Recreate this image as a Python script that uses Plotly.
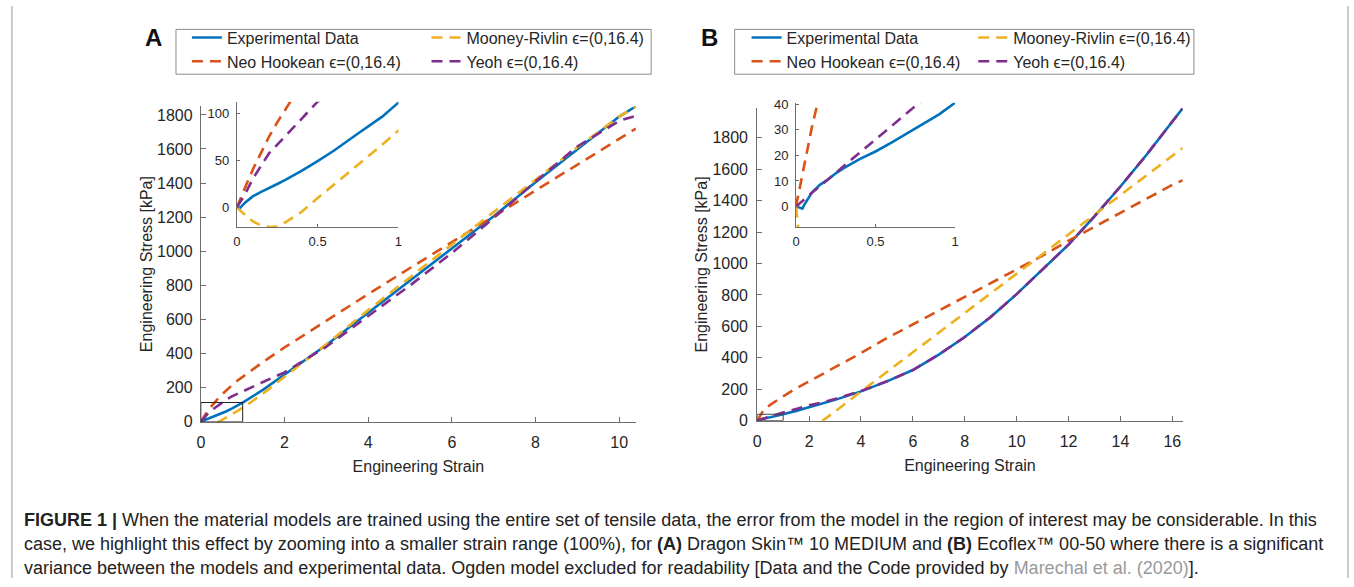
import plotly.graph_objects as go

W, H = 1354, 587

# ---------------- Panel A data (Dragon Skin 10 MEDIUM) ----------------
strain_a = [0, 0.02, 0.05, 0.1, 0.15, 0.2, 0.25, 0.3, 0.4, 0.5, 0.6, 0.75, 0.9, 1,
            1.5, 2, 3, 4, 5, 6, 7, 8, 9, 10, 10.4]
exp_a = [0, -0.5, 5, 12, 16.5, 20.5, 25, 29.5, 39, 49.5, 60.5, 79, 97, 112,
         190, 276, 450, 640, 830, 1015, 1205, 1405, 1600, 1790, 1850]
neo_a = [0, 9, 21, 41, 59, 76, 91, 106, 133, 159, 183, 216, 246, 264,
         353, 436, 595, 749, 902, 1054, 1206, 1357, 1508, 1660, 1720]
mooney_a = [0, -3.5, -8, -15, -19.5, -21, -20.5, -16, -5, 10, 24, 45, 67, 82,
            168, 265, 455, 655, 850, 1040, 1230, 1420, 1610, 1790, 1850]
yeoh_a = [0, 6, 14, 31, 45, 58, 67, 76, 95, 113, 128, 150, 168, 178,
          235, 290, 440, 620, 800, 990, 1195, 1410, 1615, 1765, 1795]

# ---------------- Panel B data (Ecoflex 00-50) ----------------
strain_b = [0, 0.005, 0.02, 0.04, 0.05, 0.1, 0.15, 0.2, 0.25, 0.3, 0.4, 0.5, 0.6,
            0.75, 0.9, 1, 1.5, 2, 2.52, 3, 4, 5, 6, 7, 8, 9, 10, 11, 12, 13, 14,
            15, 16, 16.4]
exp_b = [0, 0, -0.3, -0.8, 0.5, 5.5, 8.5, 10.5, 13, 15, 18.5, 21.5, 25,
         30.5, 36, 40.5, 62, 85, 108, 132, 186, 250, 322, 420, 532, 660, 805,
         960, 1120, 1300, 1490, 1690, 1900, 1988]
neo_b = [0, 1.6, 6.5, 13, 16, 31, 44, 55, 65, 74, 88, 100, 112,
         128, 144, 155, 205, 250, 295, 340, 430, 525, 610, 700, 787, 875, 962,
         1050, 1145, 1235, 1320, 1410, 1500, 1530]
mooney_b = [0, -6, -22, -40, -48, -85, -115, -140, -160, -178, -205, -225, -238,
            -250, -254, -255, -190, -80, 0, 58, 185, 310, 435, 560, 685, 810, 935,
            1060, 1185, 1310, 1435, 1560, 1685, 1735]
yeoh_b = [0, 0.3, 1.1, 2.2, 2.7, 5.4, 8, 10.7, 13.3, 16, 21.2, 26.4, 31.6,
          39.3, 47, 52, 75, 97, 117, 138, 188, 250, 322, 420, 532, 660, 805,
          960, 1120, 1300, 1490, 1690, 1900, 1988]

series_names = ["Experimental Data", "Neo Hookean \u03f5=(0,16.4)",
                "Mooney-Rivlin \u03f5=(0,16.4)", "Yeoh \u03f5=(0,16.4)"]
series_colors = ["#0072BD", "#D95319", "#EDB120", "#7E2F8E"]
# legend column of each series (col 1: Exp, Neo; col 2: Mooney, Yeoh)
legend_cols = [0, 0, 1, 1]

main_xticks_a = [0, 2, 4, 6, 8, 10]
main_xticks_b = [0, 2, 4, 6, 8, 10, 12, 14, 16]
main_yticks = [0, 200, 400, 600, 800, 1000, 1200, 1400, 1600, 1800]
inset_xticks = [0, 0.5, 1]
inset_xlabels = ["0", "0.5", "1"]
inset_yticks_a = [0, 50, 100]
inset_yticks_b = [0, 10, 20, 30, 40]

FONT = "Liberation Sans, Arial, sans-serif"
TXT = "#262626"
AX = "#6e6e6e"
DASH = "11px,7px"


def px_x(p):
    return p / W


def px_y(p):
    return 1 - p / H


fig = go.Figure()

panels = [
    ("x", "y", "x2", "y2", ["legend", "legend3"], strain_a, [exp_a, neo_a, mooney_a, yeoh_a]),
    ("x3", "y3", "x4", "y4", ["legend2", "legend4"], strain_b, [exp_b, neo_b, mooney_b, yeoh_b]),
]
for xm, ym, xi, yi, lgs, xs, ys_list in panels:
    for k, ys in enumerate(ys_list):
        line = dict(color=series_colors[k], width=2.6)
        if k > 0:
            line["dash"] = DASH
        fig.add_trace(go.Scatter(x=xs, y=ys, mode="lines", name=series_names[k],
                                 line=line, xaxis=xm, yaxis=ym,
                                 legend=lgs[legend_cols[k]]))
    for k, ys in enumerate(ys_list):
        line = dict(color=series_colors[k], width=2.6)
        if k > 0:
            line["dash"] = DASH
        fig.add_trace(go.Scatter(x=xs, y=ys, mode="lines", name=series_names[k],
                                 line=line, xaxis=xi, yaxis=yi, showlegend=False))


def axis_common(size, standoff):
    return dict(showline=True, linecolor=AX, linewidth=1, mirror=False,
                ticks="inside", tickcolor=AX, tickwidth=1, showgrid=False,
                zeroline=False, ticklabelstandoff=standoff,
                tickfont=dict(family=FONT, size=size, color=TXT))


title_font = dict(family=FONT, size=16, color=TXT)

fig.update_layout(
    xaxis=dict(**axis_common(16, 6), domain=[px_x(198), px_x(635.7)], range=[0, 10.4],
               tickvals=main_xticks_a, ticklen=5, anchor="y",
               title=dict(text="Engineering Strain", font=title_font, standoff=10)),
    yaxis=dict(**axis_common(16, 4), domain=[px_y(426.7), px_y(103)], range=[0, 1850],
               tickvals=main_yticks, ticklen=5, anchor="x",
               title=dict(text="Engineering Stress [kPa]", font=title_font, standoff=0)),
    xaxis2=dict(**axis_common(13, 2), domain=[px_x(234.3), px_x(396.7)], range=[0, 1],
                tickvals=inset_xticks, ticktext=inset_xlabels, ticklen=3, anchor="y2"),
    yaxis2=dict(**axis_common(13, 4), domain=[px_y(227.3), px_y(98.2)], range=[-21.5, 113],
                tickvals=inset_yticks_a, ticklen=3, anchor="x2"),
    xaxis3=dict(**axis_common(16, 6), domain=[px_x(757.7), px_x(1185.7)], range=[0, 16.4],
                tickvals=main_xticks_b, ticklen=5, anchor="y3",
                title=dict(text="Engineering Strain", font=title_font, standoff=10)),
    yaxis3=dict(**axis_common(16, 5), domain=[px_y(425.5), px_y(104.9)], range=[0, 1988],
                tickvals=main_yticks, ticklen=5, anchor="x3",
                title=dict(text="Engineering Stress [kPa]", font=title_font, standoff=0)),
    xaxis4=dict(**axis_common(13, 2), domain=[px_x(796.7), px_x(956.7)], range=[0, 1],
                tickvals=inset_xticks, ticktext=inset_xlabels, ticklen=3, anchor="y4"),
    yaxis4=dict(**axis_common(13, 4), domain=[px_y(226.7), px_y(99.3)], range=[-7.9, 40.5],
                tickvals=inset_yticks_b, ticklen=3, anchor="x4"),
)

leg_common = dict(orientation="v", xanchor="left", yanchor="top",
                  borderwidth=0, bgcolor="rgba(0,0,0,0)",
                  font=dict(family=FONT, size=16, color=TXT),
                  traceorder="normal", tracegroupgap=0)
LEG_TOP = 15
fig.update_layout(
    legend=dict(**leg_common, x=px_x(184), y=px_y(LEG_TOP)),
    legend3=dict(**leg_common, x=px_x(425), y=px_y(LEG_TOP)),
    legend2=dict(**leg_common, x=px_x(747), y=px_y(LEG_TOP)),
    legend4=dict(**leg_common, x=px_x(975), y=px_y(LEG_TOP)),
)

# legend boxes
for x0, x1 in [(173, 651), (735, 1197)]:
    fig.add_shape(type="rect", xref="paper", yref="paper", x0=px_x(x0), x1=px_x(x1),
                  y0=px_y(70), y1=px_y(24), line=dict(color="#8c8c8c", width=1),
                  layer="below")

# zoom rectangles in main axes
fig.add_shape(type="rect", xref="x", yref="y", x0=0, x1=1, y0=0, y1=113,
              line=dict(color="#222", width=1))
fig.add_shape(type="rect", xref="x3", yref="y3", x0=0, x1=1, y0=0, y1=40.5,
              line=dict(color="#444", width=1))
# outer frame (left and right edges)
for xp in (8, 1352):
    fig.add_shape(type="line", xref="paper", yref="paper", x0=px_x(xp), x1=px_x(xp),
                  y0=0, y1=1, line=dict(color="#9a9a9a", width=1))

# panel letters
for lbl, xp in [("A", 150), ("B", 710)]:
    fig.add_annotation(text="<b>%s</b>" % lbl, x=px_x(xp), y=px_y(32), xref="paper",
                       yref="paper", showarrow=False, xanchor="center", yanchor="middle",
                       font=dict(family=FONT, size=24, color="#111"))

caption = [
    "<b>FIGURE 1 |</b> When the material models are trained using the entire set of tensile data, "
    "the error from the model in the region of interest may be considerable. In this",
    "case, we highlight this effect by zooming into a smaller strain range (100%), for <b>(A)</b> "
    "Dragon Skin\u2122 10 MEDIUM and <b>(B)</b> Ecoflex\u2122 00-50 where there is a significant",
    "variance between the models and experimental data. Ogden model excluded for readability "
    "[Data and the Code provided by <span style='color:#9a9a9a'>Marechal et al. (2020)</span>].",
]
for i, line in enumerate(caption):
    fig.add_annotation(text=line, x=px_x(18), y=px_y(527 + 25 * i), xref="paper",
                       yref="paper", showarrow=False, xanchor="left", yanchor="middle",
                       align="left", font=dict(family=FONT, size=18, color="#222"))

fig.update_layout(width=W, height=H, margin=dict(l=0, r=0, t=0, b=0),
                  paper_bgcolor="white", plot_bgcolor="rgba(0,0,0,0)",
                  showlegend=True)

fig.write_html("out.html", config={"displayModeBar": False},
               post_script="document.body.style.margin='0';")
